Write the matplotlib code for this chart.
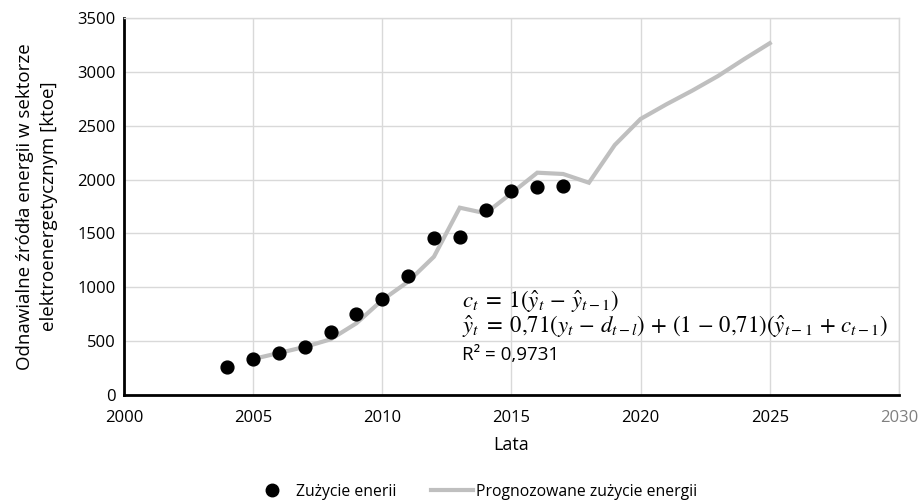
import matplotlib
matplotlib.use("Agg")
import matplotlib.pyplot as plt
from matplotlib.lines import Line2D

plt.rcParams['font.family'] = ['Open Sans', 'DejaVu Sans']
plt.rcParams['mathtext.fontset'] = 'stix'

# actual data
years = [2004, 2005, 2006, 2007, 2008, 2009, 2010, 2011, 2012, 2013, 2014, 2015, 2016, 2017]
usage = [263, 334, 387, 446, 582, 749, 888, 1108, 1461, 1464, 1718, 1897, 1934, 1941]

# forecast
f_years = list(range(2005, 2026))
forecast = [334, 390, 446, 517, 666, 882, 1052, 1284, 1739, 1687, 1873, 2064, 2052, 1971,
            2321, 2563, 2699, 2826, 2962, 3117, 3266]

x_ticks = [2000, 2005, 2010, 2015, 2020, 2025, 2030]
y_ticks = [0, 500, 1000, 1500, 2000, 2500, 3000, 3500]

fig = plt.figure(figsize=(9.21, 5.01), dpi=100)
ax = fig.add_axes([0.1346, 0.2116, 0.8414, 0.7524])

ax.plot(f_years, forecast, color='#bfbfbf', lw=3, zorder=2, solid_joinstyle='miter')
ax.scatter(years, usage, s=85, color='black', zorder=3)

ax.set_xlim(2000, 2030)
ax.set_ylim(0, 3500)
ax.set_xticks(x_ticks)
ax.set_yticks(y_ticks)
ax.grid(True, color='#d9d9d9', lw=1)
ax.set_axisbelow(True)
ax.tick_params(length=0, labelsize=12)
ax.tick_params(axis='x', pad=11)
ax.tick_params(axis='y', pad=6)
ax.xaxis.get_ticklabels()[-1].set_color('#7f7f7f')

for s in ['top', 'right']:
    ax.spines[s].set_color('#d9d9d9')
    ax.spines[s].set_linewidth(1)
for s in ['bottom', 'left']:
    ax.spines[s].set_color('black')
    ax.spines[s].set_linewidth(2)

ax.set_xlabel('Lata', fontsize=13, labelpad=7)
ax.set_ylabel('Odnawialne źródła energii w sektorze\nelektroenergetycznym [ktoe]', fontsize=13.5, labelpad=14,
              linespacing=1.45)

ax.text(2013.1, 870, r'$c_t\;=\;1(\hat{y}_t\,-\,\hat{y}_{t-1})$', fontsize=16.4, va='center')
ax.text(2013.1, 645, r'$\hat{y}_t\;=\;0{,}71(y_t\,-\,d_{t-l})\,+\,(1\,-\,0{,}71)(\hat{y}_{t-1}\,+\,c_{t-1})$',
        fontsize=16.4, va='center')
ax.text(2013.1, 375, 'R² = 0,9731', fontsize=13.5, va='center')

handles = [
    Line2D([], [], marker='o', color='black', ls='none', markersize=9),
    Line2D([], [], color='#bfbfbf', lw=3),
]
fig.legend(handles, ['Zużycie enerii', 'Prognozowane zużycie energii'],
           loc='center', bbox_to_anchor=(0.5145, 0.018), ncol=2, frameon=False,
           fontsize=11.3, handlelength=2.7, columnspacing=2.2, handletextpad=0.2)

fig.savefig('out.png', dpi=100)
